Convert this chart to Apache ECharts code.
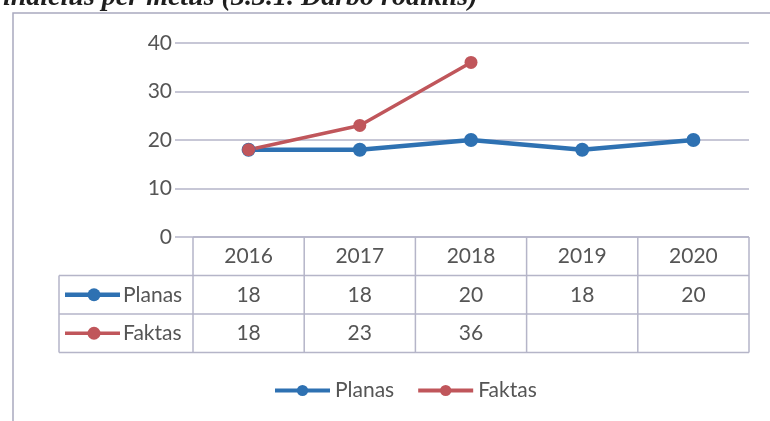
<!DOCTYPE html>
<html>
<head>
<meta charset="utf-8">
<script src="https://cdn.jsdelivr.net/npm/echarts@6/dist/echarts.min.js"></script>
<style>
  html, body { margin: 0; padding: 0; background: #fff; }
  #main { width: 770px; height: 421px; }
</style>
</head>
<body>
<div id="main"></div>
<script>
const years = ['2016', '2017', '2018', '2019', '2020'];
const planas = [18, 18, 20, 18, 20];
const faktas = [18, 23, 36, null, null];
const seriesNames = ['Planas', 'Faktas'];
const colors = ['#2e71b2', '#c0565b'];
const titleText = 'inaičius per metus (3.3.1. Darbo rodiklis)';

const font = 'Lato, "Noto Sans", sans-serif';
const textColor = '#555555';
const lineColor = '#b5b5c8';
const fs = 21;

const chart = echarts.init(document.getElementById('main'));

const option = {
  backgroundColor: '#fff',
  animation: false,
  grid: [
    { left: 193, right: 21, top: 43, height: 194 },
    { left: 175, right: 21, top: 43, height: 194 }
  ],
  xAxis: [
    { gridIndex: 0, type: 'category', data: years, axisLine: { show: false }, axisTick: { show: false }, axisLabel: { show: false } },
    { gridIndex: 1, type: 'category', data: years, show: false }
  ],
  yAxis: [
    { gridIndex: 0, type: 'value', min: 0, max: 40, interval: 10,
      axisLabel: { margin: 21, fontSize: fs, color: textColor, fontFamily: font },
      splitLine: { show: false } },
    { gridIndex: 1, type: 'value', min: 0, max: 40, interval: 10,
      axisLabel: { show: false },
      splitLine: { lineStyle: { color: lineColor, width: 1.5 } } }
  ],
  legend: {
    data: seriesNames,
    left: 268, top: 375,
    itemWidth: 55, itemHeight: 14, itemGap: 22,
    lineStyle: { width: 4 },
    textStyle: { fontSize: fs, color: textColor, fontFamily: font }
  },
  series: [
    { name: seriesNames[0], type: 'line', data: planas, color: colors[0],
      symbol: 'circle', symbolSize: 14, lineStyle: { width: 4.5 } },
    { name: seriesNames[1], type: 'line', data: faktas, color: colors[1],
      symbol: 'circle', symbolSize: 13, lineStyle: { width: 3.5 } }
  ]
};
chart.setOption(option);

// data table under the plot, positioned from the category axis
function buildTable() {
  const c0 = chart.convertToPixel({ xAxisIndex: 0 }, 0);
  const c1 = chart.convertToPixel({ xAxisIndex: 0 }, 1);
  const colW = c1 - c0;
  const left = c0 - colW / 2;
  const right = left + colW * years.length;
  const top = chart.convertToPixel({ yAxisIndex: 0 }, 0);
  const rowH = 38.5;
  const hdrLeft = 59;
  const g = [];
  const ls = { stroke: lineColor, lineWidth: 1.5 };

  g.push({ type: 'rect', shape: { x: 13, y: 13, width: 820, height: 460 },
    style: { fill: 'none', stroke: '#a9a9bf', lineWidth: 1.5 }, z: 1 });
  g.push({ type: 'text', x: 3, y: -16,
    style: { text: titleText, font: 'italic bold 28px "Liberation Serif"', fill: '#1e1e1e' }, z: 5 });

  g.push({ type: 'line', shape: { x1: left, y1: top, x2: right, y2: top }, style: ls });
  for (let r = 1; r <= 3; r++) {
    g.push({ type: 'line', shape: { x1: hdrLeft, y1: top + r * rowH, x2: right, y2: top + r * rowH }, style: ls });
  }
  for (let k = 0; k <= years.length; k++) {
    const x = left + k * colW;
    g.push({ type: 'line', shape: { x1: x, y1: top, x2: x, y2: top + 3 * rowH }, style: ls });
  }
  g.push({ type: 'line', shape: { x1: hdrLeft, y1: top + rowH, x2: hdrLeft, y2: top + 3 * rowH }, style: ls });

  const cellText = (txt, x, y, align) => ({
    type: 'text', x: x, y: y,
    style: { text: txt, font: fs + 'px ' + font, fill: textColor, align: align || 'center', verticalAlign: 'middle' }
  });

  years.forEach((yr, i) => {
    const cx = chart.convertToPixel({ xAxisIndex: 0 }, i);
    g.push(cellText(yr, cx, top + rowH / 2));
    if (planas[i] != null) g.push(cellText(String(planas[i]), cx, top + rowH * 1.5));
    if (faktas[i] != null) g.push(cellText(String(faktas[i]), cx, top + rowH * 2.5));
  });

  seriesNames.forEach((name, r) => {
    const cy = top + rowH * (r + 1.5);
    g.push({ type: 'line', shape: { x1: 65, y1: cy, x2: 120, y2: cy },
      style: { stroke: colors[r], lineWidth: r === 0 ? 4.5 : 3.5 } });
    g.push({ type: 'circle', shape: { cx: 94, cy: cy, r: 6.5 }, style: { fill: colors[r] } });
    g.push(cellText(name, 123, cy, 'left'));
  });

  chart.setOption({ graphic: g });
}
buildTable();
</script>
</body>
</html>
